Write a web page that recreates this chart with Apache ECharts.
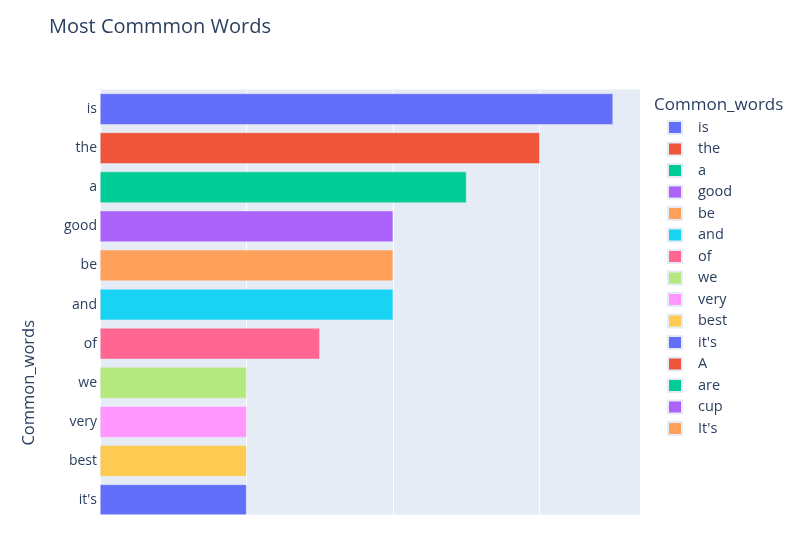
<!DOCTYPE html>
<html>
<head>
<meta charset="utf-8">
<script src="https://cdn.jsdelivr.net/npm/echarts@6/dist/echarts.min.js"></script>
<style>
  html, body { margin: 0; padding: 0; background: #fff; }
  #main { width: 806px; height: 545px; }
</style>
</head>
<body>
<div id="main"></div>
<script>
var chartDom = document.getElementById("main");
var myChart = echarts.init(chartDom);
var option;

// words sorted by count, top to bottom (the last few fall below the visible plot)
const words = ["is", "the", "a", "good", "be", "and", "of", "we", "very", "best", "it's", "A", "are", "cup", "It's"];
const counts = [7, 6, 5, 4, 4, 4, 3, 2, 2, 2, 2, 2, 2, 2, 2];
const palette = ["#636efa", "#EF553B", "#00cc96", "#ab63fa", "#FFA15A", "#19d3f3", "#FF6692", "#B6E880", "#FF97FF", "#FECB52"];

const textColor = "#2a3f5f";
const font = "Open Sans";

// plot area runs past the bottom of the canvas like the original figure
const grid = { left: 100, top: 89.5, width: 540, height: 586.5 };

const series = words.map((w, i) => {
  return {
    name: w,
    type: "bar",
    stack: "words",
    barWidth: "80%",
    data: words.map((_, j) => (j === i ? counts[i] : "-")),
    itemStyle: {
      color: palette[i % palette.length],
      borderColor: "#E5ECF6",
      borderWidth: 0.5,
    },
  };
});

option = {
  animation: false,
  textStyle: { fontFamily: font },
  title: [
    {
      text: "Most Commmon Words",
      left: 44,
      top: 12,
      textStyle: { fontSize: 20, fontWeight: "normal", color: textColor, fontFamily: font },
    },
    {
      text: "Common_words",
      left: 649,
      top: 92,
      textStyle: { fontSize: 17, fontWeight: "normal", color: textColor, fontFamily: font },
    },
  ],
  legend: {
    orient: "vertical",
    left: 667,
    top: 120,
    padding: 0,
    itemWidth: 14,
    itemHeight: 13,
    itemGap: 6.5,
    icon: "rect",
    selectedMode: false,
    data: words,
    textStyle: { fontSize: 14.5, color: textColor, fontFamily: font, padding: [0, 0, 0, 11] },
  },
  grid: Object.assign({}, grid, { show: true, backgroundColor: "#E5ECF6", borderWidth: 0, outerBoundsMode: "none", containLabel: false }),
  xAxis: {
    type: "value",
    min: 0,
    max: 7.368,
    interval: 2,
    axisLine: { show: false },
    axisTick: { show: false },
    axisLabel: { show: false },
    splitLine: { lineStyle: { color: "#ffffff", width: 1 } },
  },
  yAxis: {
    type: "category",
    inverse: true,
    data: words,
    name: "Common_words",
    nameLocation: "middle",
    nameGap: 62,
    nameTextStyle: { fontSize: 16.5, color: textColor, fontFamily: font },
    axisLine: { show: false },
    axisTick: { show: false },
    axisLabel: { fontSize: 14, color: textColor, margin: 3, fontFamily: font, interval: 0 },
    splitLine: { show: false },
  },
  series,
  graphic: {
    elements: [
      {
        type: "rect",
        z: 100,
        shape: { x: 0, y: 514.5, width: 645, height: 40 },
        style: { fill: "#ffffff" },
      },
    ],
  },
};

option && myChart.setOption(option);
</script>
</body>
</html>
